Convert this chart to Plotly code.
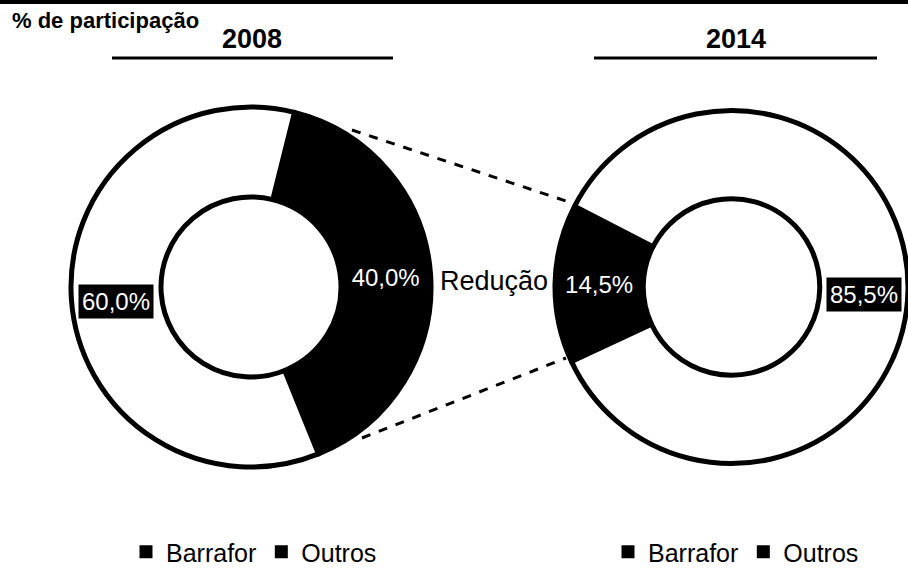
import math
import plotly.graph_objects as go

# ---------------- data ----------------
title_text = "% de participação"
years = ["2008", "2014"]
labels = ["Barrafor", "Outros"]
share_2008 = [40.0, 60.0]
share_2014 = [14.5, 85.5]
middle_text = "Redução"

# ---------------- helpers ----------------
W, H = 908, 575
FONT = "Liberation Sans, Arial, Helvetica, sans-serif"


def px(x):
    return x / W


def py(y):
    return 1 - y / H


def fmt(v):
    return f"{v:.1f}%".replace(".", ",")


HOLE = 0.5
# pie geometry in pixels: (center x, center y, radius), rotation
pies = [
    dict(year=years[0], vals=share_2008, cx=251.0, cy=287.0, r=180.0, rot=14),
    dict(year=years[1], vals=share_2014, cx=731.5, cy=287.0, r=176.5, rot=245),
]

fig = go.Figure()
annotations = []

for p in pies:
    cx, cy, r = p["cx"], p["cy"], p["r"]
    fig.add_trace(go.Pie(
        labels=labels,
        values=p["vals"],
        text=[fmt(p["vals"][0]), ""],
        textinfo="text",
        textposition="inside",
        insidetextorientation="horizontal",
        insidetextfont=dict(color="white", size=24, family=FONT),
        hole=HOLE,
        sort=False,
        direction="clockwise",
        rotation=p["rot"],
        marker=dict(colors=["black", "white"], line=dict(color="black", width=5)),
        domain=dict(x=[px(cx - r), min(1.0, px(cx + r))], y=[py(cy + r), py(cy - r)]),
        showlegend=False,
        hoverinfo="skip",
    ))
    # label of the "Outros" slice (white text on dark box as in the print)
    tot = sum(p["vals"])
    a = math.radians(p["rot"] + 360 * (p["vals"][0] + p["vals"][1] / 2) / tot)
    rm = r * (1 + HOLE) / 2
    lx = cx + rm * math.sin(a)
    ly = cy - rm * math.cos(a)
    annotations.append(dict(
        x=px(lx), y=py(ly + 5), xref="paper", yref="paper", showarrow=False,
        xanchor="center", yanchor="middle",
        text=fmt(p["vals"][1]), font=dict(color="white", size=24, family=FONT),
        bgcolor="black", borderpad=3,
    ))

# legend entries (one legend per donut)
for lg in ["legend", "legend2"]:
    for lab in labels:
        fig.add_trace(go.Scatter(
            x=[None], y=[None], mode="markers", name=lab, legend=lg,
            marker=dict(symbol="square", size=13, color="black"),
            hoverinfo="skip",
        ))

annotations += [
    dict(x=px(10), y=py(21), xref="paper", yref="paper", xanchor="left", yanchor="middle",
         showarrow=False, text=f"<b>{title_text}</b>", font=dict(size=22, family=FONT, color="black")),
    dict(x=px(252), y=py(39), xref="paper", yref="paper", xanchor="center", yanchor="middle",
         showarrow=False, text=f"<b>{years[0]}</b>", font=dict(size=27, family=FONT, color="black")),
    dict(x=px(736), y=py(39), xref="paper", yref="paper", xanchor="center", yanchor="middle",
         showarrow=False, text=f"<b>{years[1]}</b>", font=dict(size=27, family=FONT, color="black")),
    dict(x=px(494), y=py(281), xref="paper", yref="paper", xanchor="center", yanchor="middle",
         showarrow=False, text=middle_text, font=dict(size=27, family=FONT, color="black")),
]

shapes = [
    dict(type="rect", xref="paper", yref="paper", x0=0, x1=1, y0=py(4), y1=1,
         fillcolor="black", line=dict(width=0)),
    dict(type="line", xref="paper", yref="paper", x0=px(112), x1=px(393), y0=py(58), y1=py(58),
         line=dict(color="black", width=3)),
    dict(type="line", xref="paper", yref="paper", x0=px(594), x1=px(877), y0=py(58), y1=py(58),
         line=dict(color="black", width=3)),
    dict(type="line", xref="paper", yref="paper", x0=px(352), y0=py(130), x1=px(569), y1=py(202),
         line=dict(color="black", width=3, dash="dash")),
    dict(type="line", xref="paper", yref="paper", x0=px(362), y0=py(438), x1=px(566), y1=py(358),
         line=dict(color="black", width=3, dash="dash")),
]

legend_common = dict(
    orientation="h", xanchor="center", yanchor="bottom", y=0,
    font=dict(size=25, family=FONT, color="black"), itemwidth=30,
    bgcolor="rgba(0,0,0,0)", traceorder="normal",
)

fig.update_layout(
    width=W, height=H,
    margin=dict(l=0, r=0, t=0, b=0),
    paper_bgcolor="white", plot_bgcolor="white",
    font=dict(family=FONT, color="black"),
    xaxis=dict(visible=False), yaxis=dict(visible=False),
    legend=dict(x=px(254), **legend_common),
    legend2=dict(x=px(736), **legend_common),
    annotations=annotations,
    shapes=shapes,
    showlegend=True,
)

fig.write_html("out.html", config={"displayModeBar": False},
               post_script="document.body.style.margin='0';")
